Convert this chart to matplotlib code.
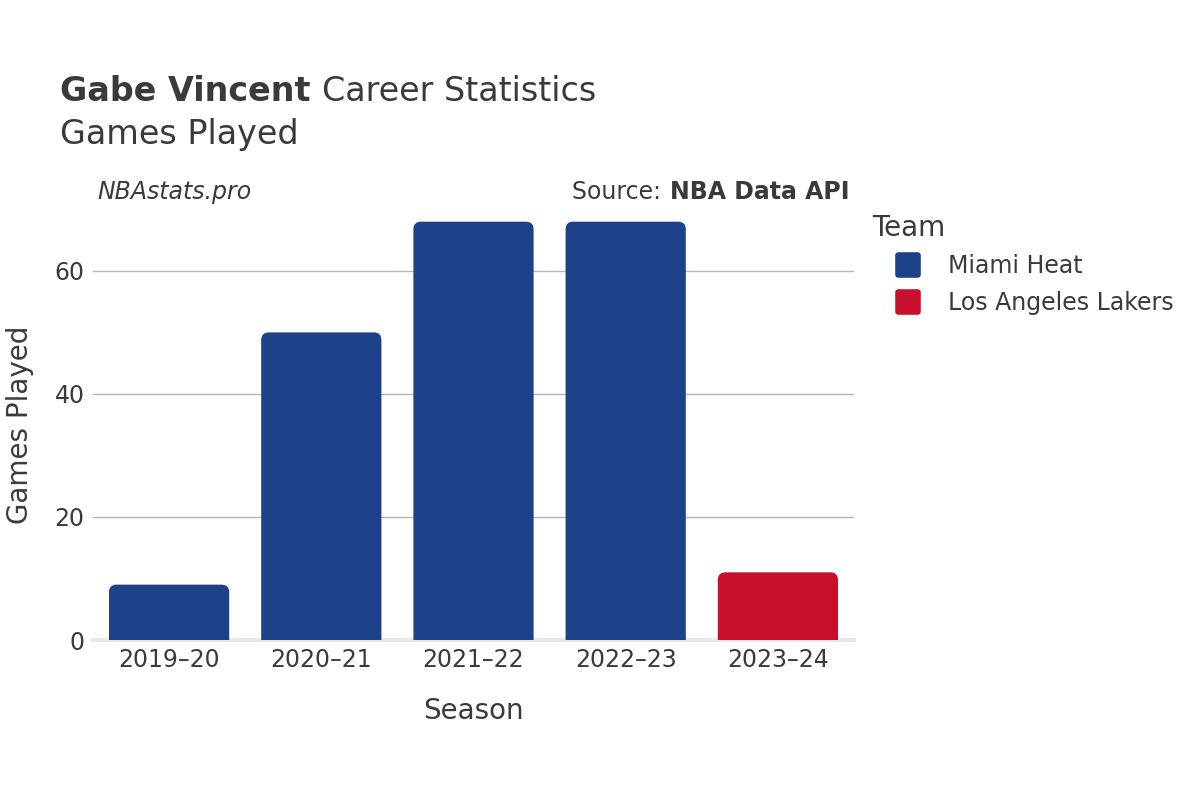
import matplotlib.pyplot as plt
from matplotlib.patches import FancyBboxPatch
from matplotlib.lines import Line2D
from matplotlib.markers import MarkerStyle

seasons = ['2019–20', '2020–21', '2021–22', '2022–23', '2023–24']
games = [9, 50, 68, 68, 11]
teams = ['Miami Heat', 'Miami Heat', 'Miami Heat', 'Miami Heat', 'Los Angeles Lakers']
team_names = ['Miami Heat', 'Los Angeles Lakers']
team_colors = {'Miami Heat': '#1d4289', 'Los Angeles Lakers': '#c8102e'}

plt.rcParams['font.family'] = ['DejaVu Sans']
txt = '#3a3a3a'

fig = plt.figure(figsize=(12, 8), dpi=100)
ax = fig.add_axes([93 / 1200, 160 / 800, 761 / 1200, 430 / 800])
ax.set_xlim(-0.5, 4.5)
ax.set_ylim(0, 69.9)

bars = ax.bar(range(len(seasons)), games, width=0.79,
              color=[team_colors[t] for t in teams], zorder=3)

# rounded tops: draw a rounded box that starts below zero, the axes clip the bottom
px_x = 761 / 5.0
px_y = 430 / 69.9
for b in bars:
    x, y = b.get_x(), b.get_y()
    w, h = b.get_width(), b.get_height()
    r = FancyBboxPatch((x, y - 3), w, h + 3,
                       boxstyle='round,pad=0,rounding_size=0.05',
                       mutation_aspect=px_x / px_y,
                       facecolor=b.get_facecolor(), edgecolor='none', zorder=3)
    b.remove()
    ax.add_patch(r)

ax.set_yticks([0, 20, 40, 60])
ax.grid(axis='y', color='#b4b4b4', linewidth=1, zorder=0)
ax.axhline(0, color='#e8e8e8', linewidth=3, zorder=2, clip_on=False)
for s in ax.spines.values():
    s.set_visible(False)
ax.tick_params(length=0, labelsize=17, colors=txt, pad=6)
ax.set_xticks(range(len(seasons)))
ax.set_xticklabels(seasons)
ax.set_xlabel('Season', fontsize=20, color=txt, labelpad=18)
ax.set_ylabel('Games Played', fontsize=20, color=txt, labelpad=15)

fig.canvas.draw()
rend = fig.canvas.get_renderer()

t1 = fig.text(60 / 1200, 1 - 101 / 800, 'Gabe Vincent', fontsize=24, fontweight='bold', color=txt)
ext = t1.get_window_extent(rend)
fig.text((ext.x1 + 12) / 1200, 1 - 101 / 800, 'Career Statistics', fontsize=24, color=txt)
fig.text(60 / 1200, 1 - 144 / 800, 'Games Played', fontsize=24, color=txt)

fig.text(97 / 1200, 1 - 199 / 800, 'NBAstats.pro', fontsize=17, style='italic', color=txt)
t2 = fig.text(850 / 1200, 1 - 199 / 800, 'NBA Data API', fontsize=17, fontweight='bold',
              color=txt, ha='right')
ext2 = t2.get_window_extent(rend)
fig.text((ext2.x0 - 2) / 1200, 1 - 199 / 800, 'Source: ', fontsize=17, color=txt, ha='right')

sq = MarkerStyle('s', joinstyle='round')
handles = [Line2D([], [], marker=sq, linestyle='none', markersize=14, markeredgewidth=4,
                  markerfacecolor=team_colors[t], markeredgecolor=team_colors[t])
           for t in team_names]
leg = fig.legend(handles, team_names, loc='upper left', bbox_to_anchor=(853 / 1200, 1 - 195 / 800),
                 frameon=False, fontsize=17, title='Team', title_fontsize=20,
                 handlelength=3.05, handletextpad=0.17, labelspacing=0.55,
                 alignment='left', borderpad=0.3)
leg._legend_box.sep = 9
for t in leg.get_texts():
    t.set_color(txt)
leg.get_title().set_color(txt)

fig.savefig('out.png', dpi=100, facecolor='white')
